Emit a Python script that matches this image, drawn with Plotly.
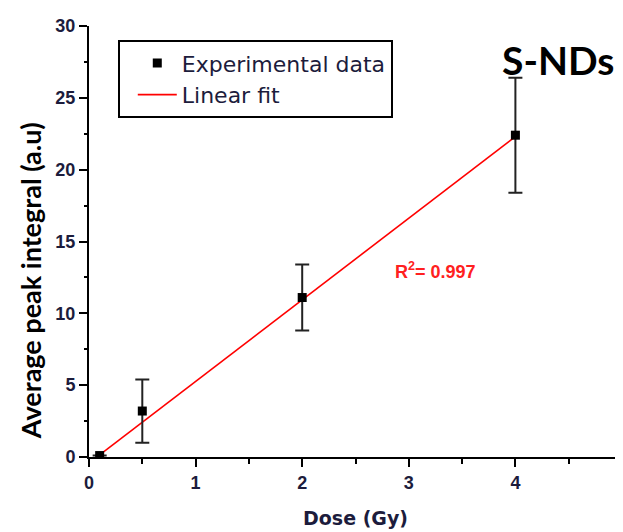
import plotly.graph_objects as go

dose = [0.1, 0.5, 2.0, 4.0]
peak = [0.1, 3.2, 11.1, 22.4]
peak_err = [0.0, 2.2, 2.3, 4.0]
fit_x = [0.1, 4.0]
fit_y = [0.15, 22.3]
x_ticks = [0, 1, 2, 3, 4, 5]
y_ticks = [0, 5, 10, 15, 20, 25, 30]

tick_font = dict(family="Liberation Sans, Arial", size=18, color="#1c1c3c",
                 weight="bold")

fig = go.Figure()
fig.add_trace(go.Scatter(
    x=fit_x, y=fit_y, mode="lines", name="Linear fit",
    line=dict(color="red", width=1.6), showlegend=True, legendrank=2))
fig.add_trace(go.Scatter(
    x=dose, y=peak, mode="markers", name="Experimental data",
    marker=dict(symbol="square", size=9, color="black"),
    error_y=dict(type="data", array=peak_err, visible=True,
                 color="#222222", thickness=2, width=7),
    legendrank=1))

axis_common = dict(showline=True, linecolor="black", linewidth=2,
                   showgrid=False, zeroline=False, automargin=False)

fig.update_layout(
    width=615, height=524,
    margin=dict(l=81, r=1, t=18, b=75),
    paper_bgcolor="white", plot_bgcolor="white",
    xaxis=dict(range=[0, 5], tickvals=x_ticks, ticks="outside", ticklen=8,
               tickwidth=2, tickcolor="black", tickfont=tick_font,
               ticklabeloverflow="allow",
               minor=dict(dtick=0.5, ticks="outside", ticklen=5, tickwidth=2,
                          tickcolor="black"),
               title=dict(text="Dose (Gy)", standoff=20,
                          font=dict(family="DejaVu Sans", size=19,
                                    color="#1c1c3c", weight="bold")),
               **axis_common),
    yaxis=dict(range=[0, 30], tickvals=y_ticks, ticks="outside", ticklen=8,
               tickwidth=2, tickcolor="black", tickfont=tick_font,
               ticklabeloverflow="allow",
               minor=dict(dtick=2.5, ticks="outside", ticklen=3, tickwidth=2,
                          tickcolor="black"),
               **axis_common),
    xaxis2=dict(range=[0, 5], overlaying="x", anchor="y", side="top",
                tickvals=x_ticks, ticks="inside", ticklen=8, tickwidth=2,
                tickcolor="black", showticklabels=False, **axis_common),
    yaxis2=dict(range=[0, 30], overlaying="y", anchor="x", side="right",
                tickvals=y_ticks, ticks="inside", ticklen=5, tickwidth=2,
                tickcolor="black", showticklabels=False,
                minor=dict(dtick=2.5, ticks="inside", ticklen=5, tickwidth=2,
                           tickcolor="black"),
                **axis_common),
    legend=dict(x=0.054, y=0.967, xanchor="left", yanchor="top",
                bordercolor="black", borderwidth=2, bgcolor="white",
                font=dict(family="DejaVu Sans", size=22, color="#1c1c3c"),
                indentation=13, itemwidth=39,
                traceorder="normal"),
    showlegend=True,
)

fig.add_annotation(text="Average peak integral (a.u)", textangle=-90,
                   xref="paper", yref="paper", x=-0.111, y=0.41,
                   xanchor="center", yanchor="middle",
                   showarrow=False,
                   font=dict(family="Lato", size=27, color="black",
                             weight="bold"))
fig.add_annotation(text="S-NDs", xref="paper", yref="paper", x=0.88, y=0.921,
                   xanchor="center", yanchor="middle",
                   showarrow=False,
                   font=dict(family="Lato", size=39, color="black",
                             weight="bold"))
fig.add_annotation(text="R<sup>2</sup>= 0.997", xref="x", yref="y",
                   x=3.25, y=13.0, showarrow=False,
                   xanchor="center", yanchor="middle",
                   font=dict(family="Liberation Sans, Arial", size=18,
                             color="#ff2020", weight="bold"))

fig.write_html("out.html")
